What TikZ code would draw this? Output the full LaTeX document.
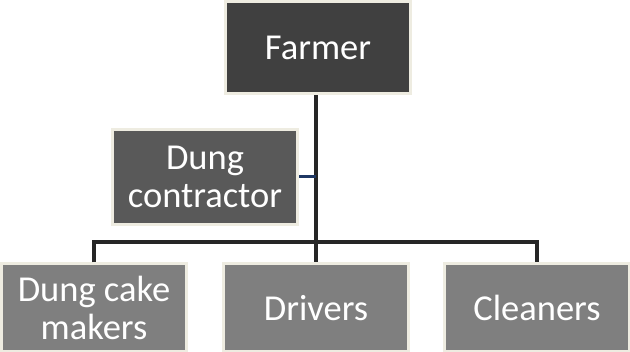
\documentclass[tikz,border=0pt]{standalone}
\usepackage{fontspec}
\setmainfont{Carlito}
\definecolor{cream}{HTML}{EEECE1}
\definecolor{topfill}{HTML}{404040}
\definecolor{midfill}{HTML}{595959}
\definecolor{lowfill}{HTML}{7F7F7F}
\definecolor{linec}{HTML}{262626}
\definecolor{navy}{HTML}{1F3864}
\begin{document}
\begin{tikzpicture}[x=1pt,y=-1pt,
  orgbox/.style={draw=cream, line width=3pt, text=white, align=center,
    font=\fontsize{36.5}{38}\selectfont, inner sep=0pt, minimum width=185pt},
  conn/.style={draw=linec, line width=3.5pt}]
\useasboundingbox (0,0) rectangle (630,352);
\node[orgbox, fill=topfill, minimum height=92pt] (farmer) at (318,48) {Farmer};
\node[orgbox, fill=midfill, minimum height=95pt] (contr) at (205,177) {Dung\\contractor};
\node[orgbox, fill=lowfill, minimum height=88pt] (makers) at (94,308) {Dung cake\\makers};
\node[orgbox, fill=lowfill, minimum height=88pt] (drivers) at (316,308) {Drivers};
\node[orgbox, fill=lowfill, minimum height=88pt] (cleaners) at (537,308) {Cleaners};
\coordinate (hub) at (316,242);
\coordinate (tap) at (316,177);
\draw[conn] (farmer.south -| hub) -- (hub);
\draw[conn] (makers.north) |- (hub) -| (cleaners.north);
\draw[conn] (hub) -- (drivers.north);
\draw[draw=navy, line width=3pt] (contr.east) -- (tap);
\end{tikzpicture}
\end{document}
